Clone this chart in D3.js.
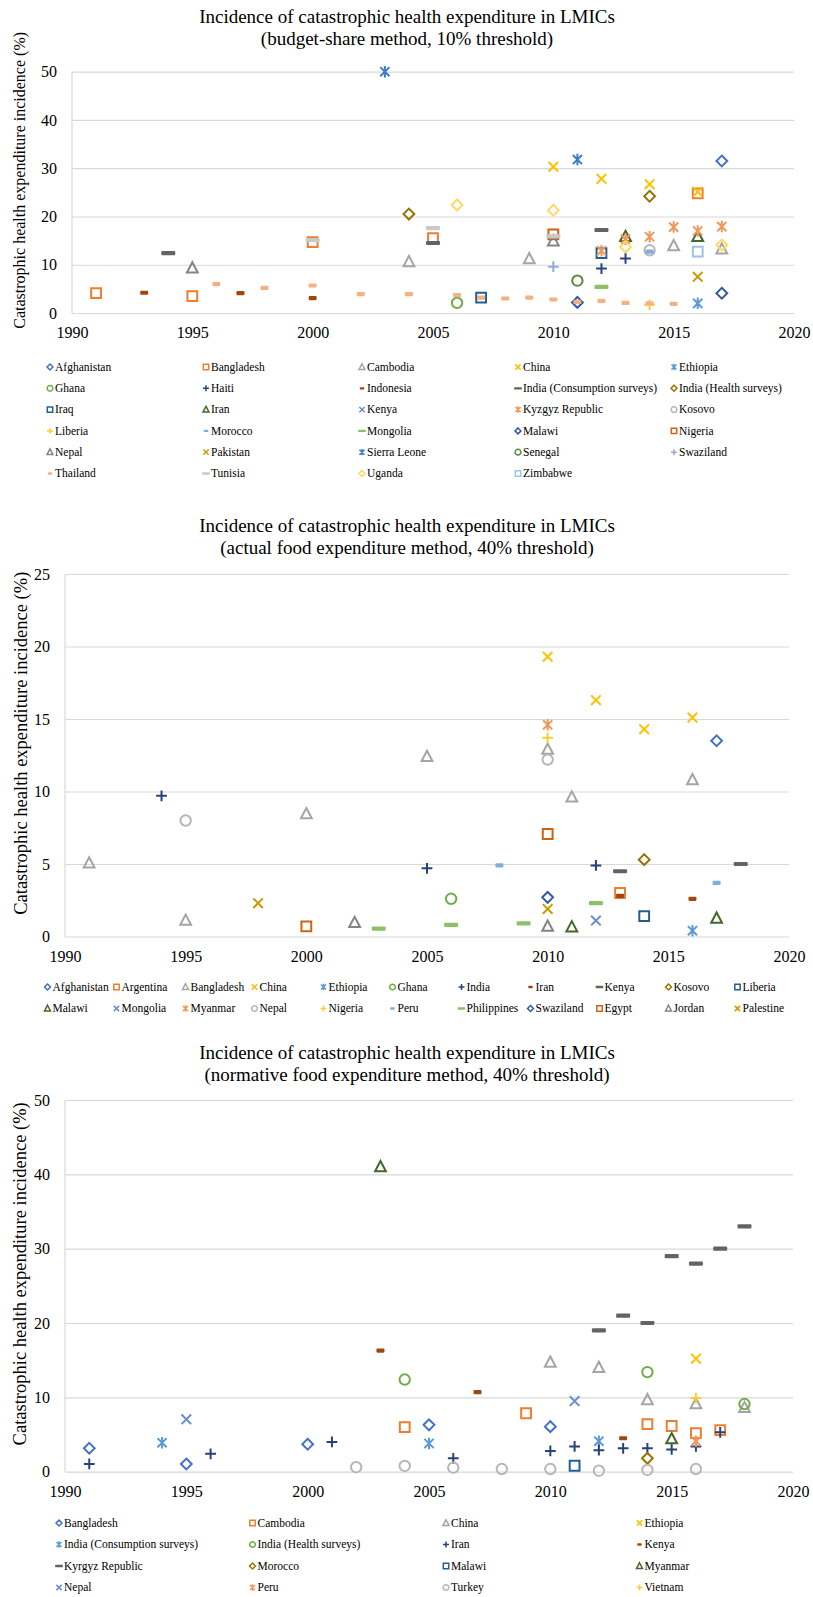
<!DOCTYPE html>
<html>
<head>
<meta charset="utf-8">
<script src="https://cdn.jsdelivr.net/npm/d3@7"></script>
<style>
  body { margin: 0; background: #fff; }
  text { font-family: "Liberation Serif", "Times New Roman", serif; fill: #000; }
</style>
</head>
<body>
<svg id="chart" width="813" height="1597"></svg>
<script>
// tick labels
var yearTicks = [1990, 1995, 2000, 2005, 2010, 2015, 2020];
var budgetTicks = [0, 10, 20, 30, 40, 50];
var actualTicks = [0, 5, 10, 15, 20, 25];
var normativeTicks = [0, 10, 20, 30, 40, 50];

// chart 1: budget-share method, 10% threshold
var budgetNames = ["Afghanistan", "Bangladesh", "Cambodia", "China", "Ethiopia",
  "Ghana", "Haiti", "Indonesia", "India (Consumption surveys)", "India (Health surveys)",
  "Iraq", "Iran", "Kenya", "Kyzgyz Republic", "Kosovo",
  "Liberia", "Morocco", "Mongolia", "Malawi", "Nigeria",
  "Nepal", "Pakistan", "Sierra Leone", "Senegal", "Swaziland",
  "Thailand", "Tunisia", "Uganda", "Zimbabwe"];
var budgetPoints = [
  ["Afghanistan", 2017, 31.5],
  ["Bangladesh", 1991, 4.1], ["Bangladesh", 1995, 3.5], ["Bangladesh", 2000, 14.7], ["Bangladesh", 2005, 15.5], ["Bangladesh", 2016, 24.8],
  ["Cambodia", 2004, 10.6], ["Cambodia", 2009, 11.2], ["Cambodia", 2015, 13.9], ["Cambodia", 2017, 13.2],
  ["China", 2010, 30.3], ["China", 2012, 27.8], ["China", 2014, 26.7], ["China", 2016, 25.1],
  ["Ethiopia", 2016, 2.0],
  ["Ghana", 2006, 2.1],
  ["Haiti", 2012, 9.2], ["Haiti", 2013, 11.3],
  ["Indonesia", 1993, 4.2], ["Indonesia", 1997, 4.1], ["Indonesia", 2000, 3.1],
  ["India (Consumption surveys)", 1994, 12.4], ["India (Consumption surveys)", 2005, 14.5], ["India (Consumption surveys)", 2012, 17.2],
  ["India (Health surveys)", 2004, 20.5], ["India (Health surveys)", 2014, 24.2],
  ["Iraq", 2007, 3.2], ["Iraq", 2012, 12.4],
  ["Iran", 2013, 15.8], ["Iran", 2016, 15.8],
  ["Kyzgyz Republic", 2012, 12.9], ["Kyzgyz Republic", 2013, 15.3], ["Kyzgyz Republic", 2014, 15.8],
  ["Kyzgyz Republic", 2015, 17.8], ["Kyzgyz Republic", 2016, 17.0], ["Kyzgyz Republic", 2017, 17.9],
  ["Kosovo", 2014, 13.0],
  ["Liberia", 2014, 1.7],
  ["Morocco", 2014, 12.7],
  ["Mongolia", 2012, 5.4],
  ["Malawi", 2011, 2.2], ["Malawi", 2017, 4.1],
  ["Nigeria", 2010, 16.3],
  ["Nepal", 1995, 9.3], ["Nepal", 2010, 14.9],
  ["Pakistan", 2016, 7.5],
  ["Sierra Leone", 2003, 50.0], ["Sierra Leone", 2011, 31.8],
  ["Senegal", 2011, 6.7],
  ["Swaziland", 2010, 9.6],
  ["Thailand", 1996, 6.0], ["Thailand", 1998, 5.2], ["Thailand", 2000, 5.7], ["Thailand", 2002, 3.9],
  ["Thailand", 2004, 3.9], ["Thailand", 2006, 3.7], ["Thailand", 2007, 3.2], ["Thailand", 2008, 3.0],
  ["Thailand", 2009, 3.2], ["Thailand", 2010, 2.8], ["Thailand", 2011, 2.3], ["Thailand", 2012, 2.5],
  ["Thailand", 2013, 2.1], ["Thailand", 2014, 2.0], ["Thailand", 2015, 1.9],
  ["Tunisia", 2000, 15.1], ["Tunisia", 2005, 17.6], ["Tunisia", 2010, 15.9],
  ["Uganda", 2006, 22.4], ["Uganda", 2010, 21.3], ["Uganda", 2013, 13.7], ["Uganda", 2017, 14.1],
  ["Zimbabwe", 2016, 12.7]
];

// chart 2: actual food expenditure method, 40% threshold
var actualNames = ["Afghanistan", "Argentina", "Bangladesh", "China", "Ethiopia",
  "Ghana", "India", "Iran", "Kenya", "Kosovo", "Liberia",
  "Malawi", "Mongolia", "Myanmar", "Nepal", "Nigeria", "Peru",
  "Philippines", "Swaziland", "Egypt", "Jordan", "Palestine"];
var actualPoints = [
  ["Afghanistan", 2017, 13.5],
  ["Argentina", 2013, 3.0],
  ["Bangladesh", 1991, 5.05], ["Bangladesh", 1995, 1.1], ["Bangladesh", 2000, 8.45], ["Bangladesh", 2005, 12.4],
  ["Bangladesh", 2010, 12.9], ["Bangladesh", 2011, 9.6], ["Bangladesh", 2016, 10.8],
  ["China", 2010, 19.3], ["China", 2012, 16.3], ["China", 2014, 14.3], ["China", 2016, 15.1],
  ["Ethiopia", 2016, 0.4],
  ["Ghana", 2006, 2.6],
  ["India", 1994, 9.7], ["India", 2005, 4.7], ["India", 2012, 4.9],
  ["Iran", 2013, 2.8], ["Iran", 2016, 2.6],
  ["Kenya", 2013, 4.5], ["Kenya", 2018, 5.0],
  ["Kosovo", 2014, 5.3],
  ["Liberia", 2014, 1.4],
  ["Malawi", 2011, 0.65], ["Malawi", 2017, 1.25],
  ["Mongolia", 2012, 1.1],
  ["Myanmar", 2010, 14.6],
  ["Nepal", 1995, 8.0], ["Nepal", 2010, 12.2],
  ["Nigeria", 2010, 13.7],
  ["Peru", 2008, 4.9], ["Peru", 2017, 3.7],
  ["Philippines", 2003, 0.55], ["Philippines", 2006, 0.8], ["Philippines", 2009, 0.9], ["Philippines", 2012, 2.3],
  ["Swaziland", 2010, 2.7],
  ["Egypt", 2000, 0.7], ["Egypt", 2010, 7.07],
  ["Jordan", 2002, 0.95], ["Jordan", 2010, 0.7],
  ["Palestine", 1998, 2.3], ["Palestine", 2010, 1.9]
];

// chart 3: normative food expenditure method, 40% threshold
var normativeNames = ["Bangladesh", "Cambodia", "China", "Ethiopia",
  "India (Consumption surveys)", "India (Health surveys)", "Iran", "Kenya",
  "Kyrgyz Republic", "Morocco", "Malawi", "Myanmar",
  "Nepal", "Peru", "Turkey", "Vietnam"];
var normativePoints = [
  ["Bangladesh", 1991, 3.15], ["Bangladesh", 1995, 1.04], ["Bangladesh", 2000, 3.7], ["Bangladesh", 2005, 6.3], ["Bangladesh", 2010, 6.06],
  ["Cambodia", 2004, 6.0], ["Cambodia", 2009, 7.86], ["Cambodia", 2014, 6.4], ["Cambodia", 2015, 6.15], ["Cambodia", 2016, 5.2], ["Cambodia", 2017, 5.6],
  ["China", 2010, 14.7], ["China", 2012, 14.0], ["China", 2014, 9.65], ["China", 2016, 9.1], ["China", 2018, 8.6],
  ["Ethiopia", 2016, 15.2],
  ["India (Consumption surveys)", 1994, 3.9], ["India (Consumption surveys)", 2005, 3.8], ["India (Consumption surveys)", 2012, 4.1],
  ["India (Health surveys)", 2004, 12.4], ["India (Health surveys)", 2014, 13.4], ["India (Health surveys)", 2018, 9.1],
  ["Iran", 1991, 1.04], ["Iran", 1996, 2.4], ["Iran", 2001, 4.0], ["Iran", 2006, 1.8], ["Iran", 2010, 2.8], ["Iran", 2011, 3.4],
  ["Iran", 2012, 2.9], ["Iran", 2013, 3.15], ["Iran", 2014, 3.15], ["Iran", 2015, 3.0], ["Iran", 2016, 3.4], ["Iran", 2017, 5.3],
  ["Kenya", 2003, 16.3], ["Kenya", 2007, 10.7], ["Kenya", 2013, 4.5],
  ["Kyrgyz Republic", 2012, 19.0], ["Kyrgyz Republic", 2013, 21.0], ["Kyrgyz Republic", 2014, 20.0], ["Kyrgyz Republic", 2015, 29.0],
  ["Kyrgyz Republic", 2016, 28.0], ["Kyrgyz Republic", 2017, 30.0], ["Kyrgyz Republic", 2018, 33.0],
  ["Morocco", 2014, 1.8],
  ["Malawi", 2011, 0.8],
  ["Myanmar", 2003, 41.0], ["Myanmar", 2015, 4.4],
  ["Nepal", 1995, 7.05], ["Nepal", 2011, 9.5],
  ["Peru", 2016, 4.1],
  ["Turkey", 2002, 0.6], ["Turkey", 2004, 0.77], ["Turkey", 2006, 0.54], ["Turkey", 2008, 0.36],
  ["Turkey", 2010, 0.36], ["Turkey", 2012, 0.13], ["Turkey", 2014, 0.23], ["Turkey", 2016, 0.36],
  ["Vietnam", 2016, 9.9]
];

// excel default series colours and marker cycle
var palette = ["#4472C4", "#ED7D31", "#A5A5A5", "#FFC000", "#5B9BD5", "#70AD47", "#264478", "#9E480E",
  "#636363", "#997300", "#255E91", "#43682B", "#698ED0", "#F1975A", "#B7B7B7", "#FFCD33",
  "#7CAFDD", "#8CC168", "#335AA1", "#D26012", "#848484", "#CC9A00", "#3C7DC4", "#5A8A39",
  "#8FAADC", "#F4B183", "#C9C9C9", "#FFD966", "#9DC3E6", "#A9D18E"];
var shapes = ["diamond", "square", "triangle", "x", "star", "circle", "plus", "dash", "longdash"];

var svg = d3.select("#chart");

function drawMarker(g, shape, color, k) {
  var sw = 2 * Math.max(k, 0.75);
  if (shape == "dash" || shape == "longdash") {
    var w = (shape == "dash" ? 8 : 14) * k, t = 4.2 * k;
    g.append("rect").attr("x", -w / 2).attr("y", -t / 2).attr("width", w).attr("height", t)
      .attr("rx", t * 0.25).attr("fill", color);
    return;
  }
  if (shape == "circle") {
    g.append("circle").attr("r", 5.2 * k).attr("fill", "none").attr("stroke", color).attr("stroke-width", sw);
    return;
  }
  var h, d;
  if (shape == "diamond") { h = 5.4 * k; d = "M0," + (-h) + "L" + h + ",0L0," + h + "L" + (-h) + ",0Z"; }
  if (shape == "square") { h = 4.9 * k; d = "M" + (-h) + "," + (-h) + "H" + h + "V" + h + "H" + (-h) + "Z"; }
  if (shape == "triangle") { h = 5.4 * k; d = "M0," + (-h * 1.1) + "L" + h + "," + (h * 0.8) + "L" + (-h) + "," + (h * 0.8) + "Z"; }
  if (shape == "x") { h = 4.8 * k; d = "M" + (-h) + "," + (-h) + "L" + h + "," + h + "M" + h + "," + (-h) + "L" + (-h) + "," + h; }
  if (shape == "star") { h = 4.6 * k; d = "M" + (-h) + "," + (-h) + "L" + h + "," + h + "M" + h + "," + (-h) + "L" + (-h) + "," + h + "M0," + (-h * 1.25) + "V" + (h * 1.25); }
  if (shape == "plus") { h = 5.4 * k; d = "M" + (-h) + ",0H" + h + "M0," + (-h) + "V" + h; }
  g.append("path").attr("d", d).attr("fill", "none").attr("stroke", color).attr("stroke-width", sw);
}

function drawPanel(p) {
  var x = d3.scaleLinear().domain([1990, 2020]).range([p.left, p.right]);
  var y = d3.scaleLinear().domain([0, d3.max(p.ticks)]).range([p.bottom, p.top]);
  var g = svg.append("g");

  // title
  g.append("text").attr("x", 407).attr("y", p.titleY).attr("text-anchor", "middle")
    .attr("font-size", 19).text("Incidence of catastrophic health expenditure in LMICs");
  g.append("text").attr("x", 407).attr("y", p.titleY + 22).attr("text-anchor", "middle")
    .attr("font-size", 19).text(p.subtitle);

  // gridlines + y labels
  var ya = g.append("g").attr("transform", "translate(" + p.left + ",0)")
    .call(d3.axisLeft(y).tickValues(p.ticks).tickSize(-(p.right - p.left)).tickPadding(15));
  ya.select(".domain").remove();
  ya.selectAll("line").attr("stroke", "#D9D9D9").attr("stroke-width", 1.2);
  ya.selectAll("text").attr("font-size", 16).attr("font-family", "Liberation Serif");

  g.append("line").attr("x1", p.left).attr("x2", p.left).attr("y1", p.top).attr("y2", p.bottom)
    .attr("stroke", "#D9D9D9").attr("stroke-width", 1.2);

  var xa = g.append("g").attr("transform", "translate(0," + p.bottom + ")")
    .call(d3.axisBottom(x).tickValues(yearTicks).tickSize(0).tickPadding(14).tickFormat(d3.format("d")));
  xa.select(".domain").remove();
  xa.selectAll("text").attr("font-size", 16).attr("font-family", "Liberation Serif");

  // y axis title
  g.append("text")
    .attr("transform", "translate(" + p.axisTitleX + "," + ((p.top + p.bottom) / 2 - 12) + ") rotate(-90)")
    .attr("text-anchor", "middle").attr("font-size", p.axisTitleSize)
    .text("Catastrophic health expenditure incidence (%)");

  // points
  g.append("g").selectAll("g")
    .data(p.points)
    .enter().append("g")
      .attr("transform", function(d) { return "translate(" + x(d[1]) + "," + y(d[2]) + ")"; })
      .each(function(d) {
        var i = p.names.indexOf(d[0]);
        drawMarker(d3.select(this), shapes[i % shapes.length], palette[i], 1);
      });

  // legend
  var legend = g.append("g").selectAll("g")
    .data(p.names)
    .enter().append("g")
      .attr("transform", function(d, i) {
        return "translate(" + (p.legX + (i % p.cols) * p.legDx) + "," + (p.legY + Math.floor(i / p.cols) * p.legDy) + ")";
      });
  legend.each(function(d, i) {
    drawMarker(d3.select(this), shapes[i % shapes.length], palette[i], 0.55);
  });
  legend.append("text").attr("x", 5).attr("dy", "0.32em").attr("font-size", 11.5).text(function(d) { return d; });
}

drawPanel({ names: budgetNames, points: budgetPoints, ticks: budgetTicks,
  subtitle: "(budget-share method, 10% threshold)", titleY: 23,
  left: 72, right: 794, top: 71.7, bottom: 313, axisTitleX: 25, axisTitleSize: 16,
  legX: 50, legDx: 156, cols: 5, legY: 367, legDy: 21.3 });

drawPanel({ names: actualNames, points: actualPoints, ticks: actualTicks,
  subtitle: "(actual food expenditure method, 40% threshold)", titleY: 532,
  left: 65, right: 789, top: 574, bottom: 936.5, axisTitleX: 27, axisTitleSize: 18.5,
  legX: 47.5, legDx: 69, cols: 11, legY: 987, legDy: 21.5 });

drawPanel({ names: normativeNames, points: normativePoints, ticks: normativeTicks,
  subtitle: "(normative food expenditure method, 40% threshold)", titleY: 1059,
  left: 65, right: 793, top: 1100, bottom: 1471.7, axisTitleX: 26, axisTitleSize: 18.5,
  legX: 59, legDx: 193.5, cols: 4, legY: 1523, legDy: 21.5 });
</script>
</body>
</html>
